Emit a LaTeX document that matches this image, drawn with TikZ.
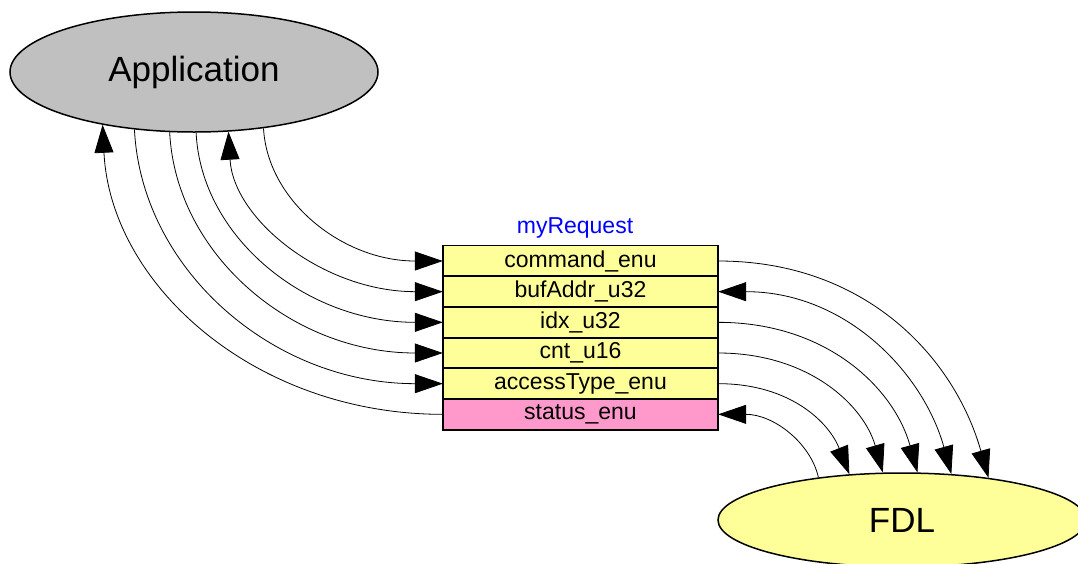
\documentclass[tikz,border=0pt]{standalone}
\usepackage{fontspec}
\setmainfont{Liberation Sans}
\usetikzlibrary{arrows.meta,shapes.geometric}
\definecolor{rowyellow}{RGB}{255,255,153}
\definecolor{rowpink}{RGB}{255,153,204}
\definecolor{appgray}{RGB}{192,192,192}
\begin{document}
\begin{tikzpicture}[x=1pt,y=-1pt,
  bignode/.style={ellipse,draw,line width=1.5pt,inner sep=0pt,font=\fontsize{35}{40}\selectfont},
  field/.style={rectangle,fill=rowyellow,minimum width=275pt,minimum height=30.67pt,inner sep=0pt,font=\fontsize{23}{27}\selectfont},
  border/.style={line width=1.5pt},
  conn/.style={line width=0.8pt},
  tip/.tip={Triangle[length=28pt,width=19pt]}]
\useasboundingbox (0,0) rectangle (1078,563);
\node[bignode,fill=appgray,minimum width=368pt,minimum height=120pt] (app) at (194,72) {Application};
\node[bignode,fill=rowyellow,minimum width=368pt,minimum height=94pt] (fdl) at (902,520) {FDL};
\node[text=blue,font=\fontsize{23}{27}\selectfont] (title) at (575,228) {myRequest};
\node[field] (r1) at (580.5,261) {command\_enu};
\node[field] (r2) at (580.5,291.67) {bufAddr\_u32};
\node[field] (r3) at (580.5,322.33) {idx\_u32};
\node[field] (r4) at (580.5,353) {cnt\_u16};
\node[field] (r5) at (580.5,383.67) {accessType\_enu};
\node[field,fill=rowpink] (r6) at (580.5,414.33) {status\_enu};
\foreach \r in {r1,r2,r3,r4,r5,r6}
  \draw[border] (\r.north west) rectangle (\r.south east);
% left side
\draw[conn,-tip] (app.-39.8) .. controls +(4,73) and +(-100,0) .. (r1.west);
\draw[conn,tip-tip] (app.-60.8) .. controls +(5,88) and +(-119,0) .. (r2.west);
\draw[conn,-tip] (app.-88.1) .. controls +(5,105) and +(-136,0) .. (r3.west);
\draw[conn,-tip] (app.-112.8) .. controls +(6,122) and +(-151,0) .. (r4.west);
\draw[conn,-tip] (app.-136.1) .. controls +(7,140) and +(-170,0) .. (r5.west);
\draw[conn,-tip] (r6.west) .. controls +(-188,0) and +(8,160) .. (app.-150.5);
% right side
\draw[conn,-tip] (r1.east) .. controls +(148,0) and +(-34,-120) .. (fdl.26.5);
\draw[conn,tip-tip] (r2.east) .. controls +(128,0) and +(-28,-101) .. (fdl.43.4);
\draw[conn,-tip] (r3.east) .. controls +(110,0) and +(-23,-83) .. (fdl.72.2);
\draw[conn,-tip] (r4.east) .. controls +(91,0) and +(-19,-67) .. (fdl.112.1);
\draw[conn,-tip] (r5.east) .. controls +(73,0) and +(-20,-51) .. (fdl.139.1);
\draw[conn,-tip] (fdl.153.5) .. controls +(-8,-35) and +(55,0) .. (r6.east);
\end{tikzpicture}
\end{document}
